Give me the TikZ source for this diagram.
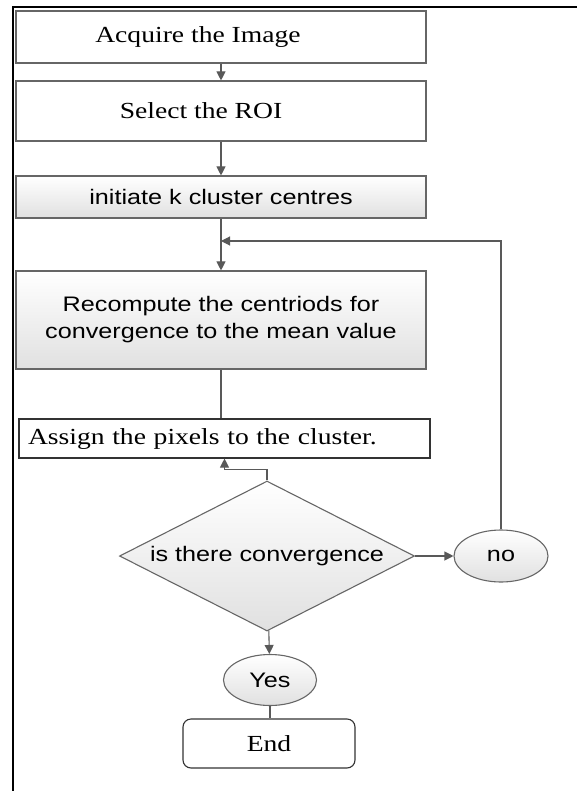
\documentclass[tikz,border=0pt]{standalone}
\usepackage{fontspec}
\setmainfont{Liberation Serif}[FakeStretch=1.2]
\newfontfamily\arialfont{Liberation Sans}[FakeStretch=1.2]
\usetikzlibrary{shapes.geometric,arrows.meta}

\begin{document}
\begin{tikzpicture}[x=1pt,y=-1pt,
  line width=1.1pt,
  serifbox/.style={draw=black!60, fill=white, inner sep=0pt, minimum width=410pt,
    font=\fontsize{23}{27}\selectfont},
  greybox/.style={draw=black!60, top color=white, bottom color=black!12, inner sep=0pt,
    minimum width=410pt, align=center, font=\arialfont\fontsize{21}{27}\selectfont},
  roundnode/.style={draw=black!60, ellipse, top color=white, bottom color=black!12,
    inner sep=0pt, font=\arialfont\fontsize{21}{25}\selectfont},
  arr/.style={draw=black!65, -{Triangle[length=9pt,width=9pt]}},
  ln/.style={draw=black!65}]

\useasboundingbox (0,0) rectangle (577,791);
\draw[line width=2pt] (13,791) -- (13,7) -- (577,7);

\node[serifbox, minimum height=52pt] (acq) at (221,37) {\hspace*{-46pt}Acquire the Image};
\node[serifbox, minimum height=60pt] (roi) at (221,111) {\hspace*{-40pt}Select the ROI};
\node[greybox, minimum height=42pt] (init) at (221,197) {initiate k cluster centres};
\node[greybox, minimum height=98pt] (recomp) at (221,320)
  {Recompute the centriods for\\convergence to the mean value};
\node[serifbox, draw=black!80, minimum width=411pt, minimum height=39pt,
  text width=393pt, align=left, inner xsep=9pt] (assign) at (224.5,438.5)
  {Assign the pixels to the cluster.};

\node[draw=black!60, diamond, aspect=1.97, top color=white, bottom color=black!12,
  inner sep=0pt, minimum width=295pt, minimum height=150pt,
  font=\arialfont\fontsize{21}{25}\selectfont] (conv) at (267,556) {is there convergence};
\node[roundnode, minimum width=94pt, minimum height=52pt] (no) at (501,556) {no};
\node[roundnode, minimum width=93pt, minimum height=51pt] (yes) at (270,680) {Yes};
\node[serifbox, draw=black!80, rounded corners=8pt, minimum width=172pt,
  minimum height=49pt] (endbox) at (269,743.5) {End};

\coordinate (join) at (221,241);

\draw[arr] (acq) -- (roi);
\draw[arr] (roi) -- (init);
\draw[arr] (init) -- (recomp);
\draw[arr] (no) |- (join);
\draw[ln] (recomp.south) -- (recomp.south |- assign.north);
\draw[arr] (conv.north) -- ++(0,-11) -| (assign.south);
\draw[arr] (conv) -- (no);
\draw[arr] (conv) -- (yes);
\draw[ln] (yes) -- (yes |- endbox.north);

\end{tikzpicture}
\end{document}
